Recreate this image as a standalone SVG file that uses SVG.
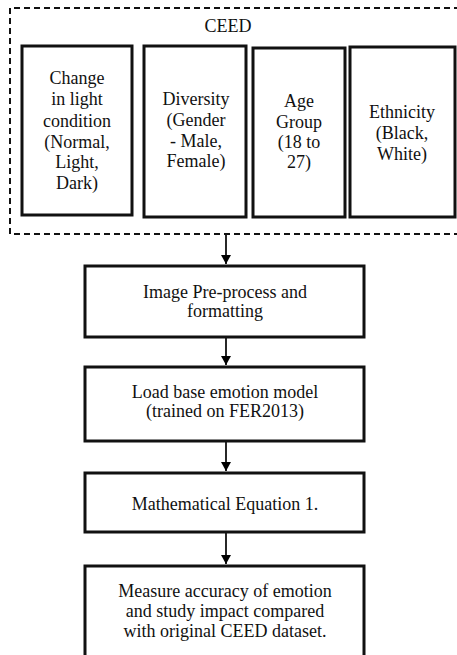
<svg xmlns="http://www.w3.org/2000/svg" width="457" height="655" viewBox="0 0 457 655">
<defs>
<marker id="ah" markerWidth="10" markerHeight="10" refX="9" refY="5" orient="auto" markerUnits="userSpaceOnUse">
<path d="M0,0 L9,5 L0,10 Z" fill="#000"/>
</marker>
<style>
.box{fill:#fff;stroke:#111;stroke-width:3}
.dash{fill:none;stroke:#111;stroke-width:2;stroke-dasharray:6,4}
.t{font-size:18px;fill:#111;text-anchor:middle}
.c{stroke:#111;stroke-width:1.8;fill:none}
</style>
</defs>
<rect width="457" height="655" fill="#fff"/>
<g font-family="Liberation Serif, DejaVu Serif, serif">
<g id="ceed">
<path class="dash" d="M470,8 L10,8 L10,234 L470,234"/>
<text class="t" x="228" y="32">CEED</text>
</g>
<g id="light">
<rect class="box" x="22" y="46" width="110" height="169"/>
<text class="t" x="77" y="84">Change</text>
<text class="t" x="77" y="105">in light</text>
<text class="t" x="77" y="127">condition</text>
<text class="t" x="77" y="148">(Normal,</text>
<text class="t" x="77" y="168">Light,</text>
<text class="t" x="77" y="189">Dark)</text>
</g>
<g id="diversity">
<rect class="box" x="144" y="46" width="102" height="171"/>
<text class="t" x="196" y="105">Diversity</text>
<text class="t" x="196" y="126">(Gender</text>
<text class="t" x="196" y="147">- Male,</text>
<text class="t" x="196" y="167">Female)</text>
</g>
<g id="age">
<rect class="box" x="253" y="48" width="92" height="169"/>
<text class="t" x="299" y="107">Age</text>
<text class="t" x="299" y="128">Group</text>
<text class="t" x="299" y="148">(18 to</text>
<text class="t" x="299" y="168">27)</text>
</g>
<g id="ethnicity">
<rect class="box" x="350" y="47" width="105" height="170"/>
<text class="t" x="402" y="118">Ethnicity</text>
<text class="t" x="402" y="139">(Black,</text>
<text class="t" x="402" y="160">White)</text>
</g>
<g id="preprocess">
<rect class="box" x="85" y="266" width="279" height="71"/>
<text class="t" x="225" y="298">Image Pre-process and</text>
<text class="t" x="225" y="317">formatting</text>
</g>
<g id="load">
<rect class="box" x="85" y="367" width="279" height="74"/>
<text class="t" x="225" y="398">Load base emotion model</text>
<text class="t" x="225" y="417">(trained on FER2013)</text>
</g>
<g id="equation">
<rect class="box" x="85" y="473" width="279" height="59"/>
<text class="t" x="225" y="510">Mathematical  Equation 1.</text>
</g>
<g id="measure">
<rect class="box" x="85" y="566" width="279" height="100"/>
<text class="t" x="225" y="597">Measure accuracy  of emotion</text>
<text class="t" x="225" y="617">and study impact  compared</text>
<text class="t" x="225" y="637">with original  CEED dataset.</text>
</g>
</g>
<g id="connectors">
<line class="c" x1="226" y1="235" x2="226" y2="264" marker-end="url(#ah)"/>
<line class="c" x1="226" y1="338" x2="226" y2="365" marker-end="url(#ah)"/>
<line class="c" x1="226" y1="442" x2="226" y2="471" marker-end="url(#ah)"/>
<line class="c" x1="226" y1="533" x2="226" y2="564" marker-end="url(#ah)"/>
</g>
</svg>
